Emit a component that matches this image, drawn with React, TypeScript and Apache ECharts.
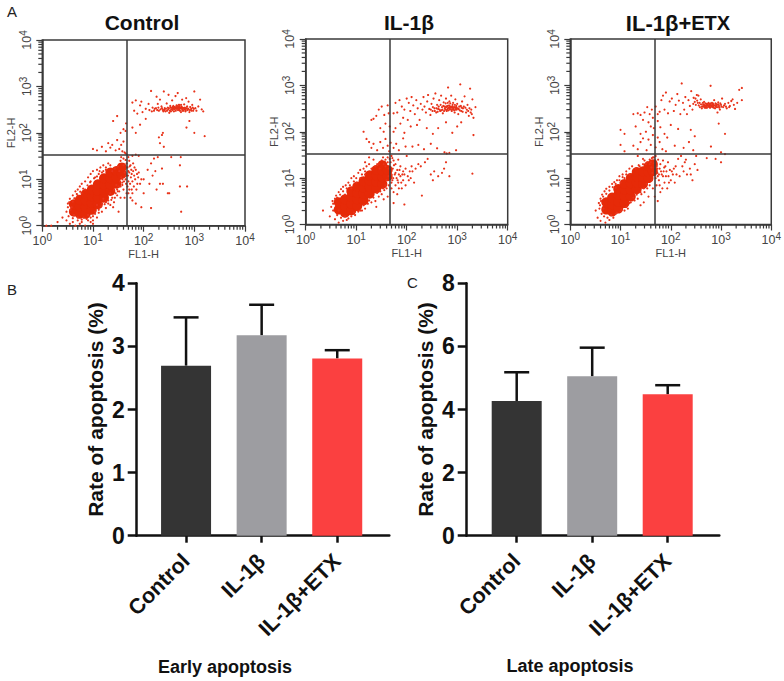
import React, { useEffect, useRef } from "react";
import * as echarts from "echarts";

const groupNames = ["Control", "IL-1β", "IL-1β+ETX"];
const barColors = ["#343434", "#9d9da1", "#fb4040"];
const earlyValues = [2.695, 3.175, 2.81];
const earlyUpper = [3.46, 3.66, 2.94];
const lateValues = [4.27, 5.05, 4.48];
const lateUpper = [5.18, 5.96, 4.77];
const decades = [1, 10, 100, 1000, 10000];
const minorLogTicks = [2,3,4,5,6,7,8,9,20,30,40,50,60,70,80,90,200,300,400,500,600,700,800,900,2000,3000,4000,5000,6000,7000,8000,9000];
const gateX = 47;
const gateY = 34;

const controlCore = [[4.2,2.0],[4.2,2.9],[5.5,1.8],[5.5,2.6],[5.5,3.6],[7.2,1.8],[7.2,2.5],[7.2,3.5],[7.2,4.8],[9.5,2.2],[9.5,3.1],[9.5,4.3],[9.5,6],[12.5,2.9],[12.5,4],[12.5,5.6],[12.5,7.8],[16.5,4],[16.5,5.5],[16.5,7.6],[16.5,10.5],[22,5.6],[22,7.7],[22,10.5],[22,14],[29,8],[29,11],[29,15],[37,13],[37,18]];
const controlDots = [[60,450],[70,500],[85,390],[90,470],[65,300],[75,260],[95,280],[110,330],[125,420],[140,800],[150,350],[165,330],[180,600],[190,420],[200,300],[210,520],[225,370],[240,310],[250,780],[260,340],[270,290],[285,430],[300,350],[310,660],[320,270],[335,380],[350,320],[365,500],[380,340],[395,290],[410,360],[425,620],[440,330],[455,380],[470,720],[485,350],[500,310],[515,400],[530,350],[545,280],[560,360],[575,520],[590,330],[610,300],[630,410],[650,350],[670,290],[690,560],[710,340],[740,310],[770,470],[800,280],[830,360],[870,330],[910,400],[950,300],[1000,780],[1050,340],[1100,300],[1200,370],[1300,520],[1400,320],[1500,290],[340,350],[360,345],[375,360],[390,340],[405,350],[420,335],[435,355],[450,345],[465,340],[480,360],[495,330],[510,345],[525,335],[540,350],[555,340],[570,330],[585,350],[600,335],
[130,310],[145,290],[160,300],[175,340],[185,310],[195,350],[215,320],[230,340],[245,290],[255,310],[275,330],[290,300],[305,320],[315,340],[330,300],[345,290],[370,310],[385,380],[400,320],[430,300],[445,390],[475,310],[490,400],[505,370],[520,300],[550,400],[580,300],[620,340],[640,320],[660,340],[680,310],[720,370],[760,330],[820,310],[880,300],[930,350],[980,330],
[40,120],[45,160],[30,230],[25,180],[35,100],[44,110],[60,130],[70,100],[85,150],[110,200],[200,80],[210,60],[230,90],[240,100],[250,50],[700,130],[800,180],[1000,100],[1600,85],
[10,45],[12,42],[15,50],[18,40],[20,60],[22,48],[24,55],[28,42],[30,70],[33,45],[36,55],[38,40],[40,65],[42,38],[44,36],[47,34],[50,30],[60,32],[70,34],[80,32],[55,20],[62,22],[70,16],[80,14],[90,10],[100,10],[65,12],[75,8],[58,6],[50,5],[55,4],[60,3.5],[70,3],[90,2.5],[140,2.4],[120,16],[140,22],[160,28],[190,30],[230,17],[170,15],[150,12],[130,8],[210,8],[240,8],[300,5],[320,5],[520,7],[720,7],[550,2],[350,30],[520,20],[540,30],[180,6],[100,5],[35,25],[40,20],[42,14],[45,12],[38,10],[45,8],[40,6],[42,4],[35,4],[52,14],[56,11],[60,9],[64,7],[48,18],[52,25],[57,16],[68,10],[72,6],[48,7],[50,9],[54,8],
[46,22],[44,26],[40,28],[36,30],[49,12],[50,15],[53,19],[58,13],[62,15],[66,18],[74,13],[78,11],[85,8],[60,5],[52,6],[46,5],[44,10],[41,9],[38,7.5],[33,5.5],[30,4.5],[26,3.2],[22,2.8],[18,2.4],[15,2],[12,1.5],[10,1.3],
[2,1.2],[2.5,1.5],[3,1.3],[3.5,1.1],[4,1.2],[4.5,1],[5,1.3],[5.5,1.1],[6,1.2],[7,1],[8,1.3],[9,1.2],[10,1.1],[1.2,1],[1.5,1],[3,2],[3.2,3],[3.5,3.8],[4,4.5],[4.5,5.5],[5,6],[5.5,7],[6,8],[7,9],[8,11],[9,13],[10,15],[12,16],[14,18],[16,20],[18,18],[20,22],[22,20],[11,2],[13,2.2],[15,3],[18,3.2],[20,3.5],[24,4],[28,5],[30,6],[32,7],[25,2.5],[32,2],[34,9],[36,11],[33,15],[31,19],[27,17],[24,15],[4.2,1.7],[6.5,1.5],[8,1.7],[10,1.6],[12,2.8],[16,3.8],[22,5],[26,6],[29,7.5],[7,6],[6,5],[5,4.5],[9,9],[11,11],[13,13],[15,14],[3.8,2.5],[4,3.3],
[3.3,1.6],[3.6,2.2],[3.2,2.5],[3.4,3.2],[4.3,3.9],[4.8,4.8],[5.6,5.4],[6.4,6.3],[7.8,7.4],[8.8,8.6],[10.5,10.5],[12,11.5],[13.5,15],[16,15],[18,16],[7.5,1.4],[9,1.5],[6,1.35],[5,1.5],[4,1.45],[11,1.8],[13,1.9],[14.5,2.6],[17,2.9],[20,3],[23,3.6],[27,4],[31,5.5],[35,7],[38,8.5]];

const il1Core = [[4.5,2.1],[4.5,3],[6,1.8],[6,2.5],[6,3.5],[8,2],[8,2.8],[8,3.9],[8,5.2],[10.5,2.5],[10.5,3.5],[10.5,4.8],[10.5,6.6],[14,3.3],[14,4.6],[14,6.3],[14,8.6],[18.5,4.6],[18.5,6.4],[18.5,8.8],[18.5,11.5],[25,6],[25,8.3],[25,11.5],[25,15],[33,7.5],[33,10.5],[33,14.5],[33,19],[42,11],[42,15]];
const il1Dots = [[55,250],[60,420],[65,260],[72,480],[80,350],[85,200],[90,300],[100,520],[105,180],[110,420],[118,280],[125,560],[135,370],[145,240],[155,480],[165,320],[180,180],[190,400],[205,300],[215,560],[225,350],[240,260],[255,450],[265,620],[280,310],[295,230],[310,400],[325,280],[340,520],[355,320],[370,670],[385,260],[400,380],[420,310],[440,480],[460,280],[480,600],[500,340],[520,250],[540,430],[560,350],[580,300],[600,520],[620,280],[640,360],[660,900],[680,330],[700,450],[720,300],[740,350],[760,600],[780,280],[800,330],[830,420],[860,340],[890,260],[920,500],[950,330],[980,300],[1000,400],[1050,240],[1100,350],[1150,1050],[1200,280],[1250,450],[1300,320],[1400,580],[1500,260],[1600,380],[1700,220],[1800,850],[1900,300],[2000,500],[2100,200],[2300,340],[2100,85],[600,340],[650,320],[700,340],[750,330],[800,350],[850,320],[900,340],[950,320],
[300,300],[330,340],[360,280],[390,320],[410,270],[430,350],[450,300],[470,380],[490,290],[510,300],[530,360],[550,280],[570,320],[590,410],[610,350],[630,300],[650,420],[670,290],[690,370],[710,320],[730,410],[770,340],[790,300],[810,380],[840,310],[870,290],[900,380],[930,300],[960,360],[1020,320],[1070,310],[1120,290],[1180,360],[1220,330],[1280,270],[1350,350],[1450,330],[1550,300],[1650,280],[1750,320],[1850,260],[1950,240],
[20,180],[22,190],[25,220],[28,300],[32,350],[36,230],[42,370],[44,250],[35,100],[30,120],[38,150],[46,130],[55,100],[60,120],[75,150],[90,95],[120,130],[160,140],[250,120],[330,90],[420,120],[600,160],[800,95],[1000,130],[1200,160],
[14,100],[16,70],[18,60],[20,45],[22,55],[26,40],[30,60],[34,45],[38,70],[42,50],[45,38],[48,58],[55,45],[62,55],[70,40],[85,72],[95,48],[130,48],[170,52],[220,42],[300,55],[400,44],[560,36],[620,34],[700,35],[950,40],
[15,22],[18,28],[22,25],[26,20],[29,16],[50,30],[55,24],[60,20],[68,25],[75,18],[85,14],[90,12],[100,30],[120,10],[140,8],[150,16],[170,20],[190,18],[200,4.2],[230,22],[260,26],[300,12],[330,9],[350,14],[420,11],[500,13],[550,16],[600,22],[700,11],[2000,12.5],[50,6],[55,5],[60,7],[68,8],[75,11],[85,9],[95,7],[110,9],[65,4.5],[90,2.7],[55,2.9],[52,9],[58,12],[65,15],[48,17],[48,22],[52,27],[80,6],[70,6],[130,14],
[50,12],[53,16],[56,19],[60,13],[63,10],[66,9],[70,12],[72,15],[78,8],[82,12],[50,8],[54,10],[48,10],[46,26],[42,28],[38,25],[34,28],[105,11],[115,14],[125,18],[95,16],
[2.2,2],[3,1.5],[3.5,2],[3.8,1.3],[4.2,1.6],[4.5,1.1],[5,1.4],[5.5,1.2],[6,1.5],[6.5,1.25],[7,1.35],[8,1.5],[3.5,2.8],[3.8,3.6],[4,4.2],[4.5,5],[5,5.8],[5.5,6.5],[6.2,7],[7,8],[8,10],[9,11],[11,13],[12,15],[14,16],[16,18],[18,20],[20,16],[24,18],[28,20],[32,24],[35,20],[38,18],[42,22],[44,16],[11,1.9],[13,2],[15,2.2],[17,2.8],[20,3],[24,3.2],[28,4],[32,4.5],[36,5.5],[40,6],[42,4],[44,7],[40,9],[44,11],[35,3.5],[25,2.4],[4.5,2],[9,1.8],[6,4.4],[8,6],[10,8],[12,10],[15,12],
[3.2,2.4],[3.4,3.2],[4.2,3.8],[4.8,4.4],[5.5,5.2],[6.5,6],[7.5,7],[9,8.5],[10,10],[13,12],[15,14],[9.5,1.6],[12,2],[14,2.6],[18,3.3],[22,3.8],[26,4.8],[30,5.2],[34,6],[38,7]];

const etxCore = [[5.2,2.1],[5.2,3],[6.8,1.9],[6.8,2.7],[6.8,3.8],[9,2.2],[9,3.1],[9,4.4],[9,5.8],[12,2.9],[12,4.1],[12,5.7],[12,7.5],[16,4],[16,5.6],[16,7.8],[16,10],[21,5.8],[21,8],[21,10.8],[21,13.5],[28,7.5],[28,10.5],[28,14],[36,10],[36,13.5],[36,18],[44,14],[44,20]];
const etxDots = [[50,350],[55,240],[60,270],[65,480],[70,600],[75,300],[80,700],[88,250],[95,450],[105,520],[115,280],[125,380],[135,650],[145,470],[155,240],[165,1100],[175,420],[185,300],[195,560],[210,240],[225,480],[240,360],[255,750],[270,300],[285,540],[300,440],[315,380],[330,620],[345,420],[360,370],[380,340],[400,390],[420,350],[440,380],[460,440],[480,360],[500,330],[520,400],[540,370],[560,350],[580,400],[600,380],[620,980],[640,360],[660,420],[680,340],[700,380],[730,480],[760,320],[790,400],[820,370],[850,260],[880,430],[910,360],[950,300],[1000,380],[1050,520],[1100,340],[1200,400],[1300,320],[1500,360],[1600,460],[1700,500],[1900,310],[2100,420],[2300,800],[2600,880],[2600,480],[500,370],[530,380],[560,370],[590,360],[610,375],[650,365],[700,360],[470,370],[780,355],[450,350],
[280,400],[310,520],[335,470],[355,600],[375,420],[395,500],[415,320],[435,420],[455,390],[475,330],[490,410],[510,350],[525,330],[545,400],[565,420],[585,340],[605,330],[625,410],[645,350],[665,380],[690,410],[715,330],[745,370],[775,410],[805,340],[835,390],[865,340],[895,390],[930,330],[970,410],[1020,350],[1150,370],[1250,350],[1400,420],[1450,340],[1800,380],
[18,240],[22,250],[25,230],[30,260],[34,340],[38,240],[42,300],[10,110],[12,90],[20,130],[25,90],[28,180],[32,100],[36,160],[40,130],[44,200],[46,120],[55,170],[62,125],[75,90],[85,75],[100,140],[140,115],[250,110],[300,80],[900,150],[1200,90],
[10,52],[12,38],[18,50],[22,42],[25,60],[28,72],[33,40],[36,68],[40,52],[44,85],[50,46],[55,75],[60,60],[68,42],[80,38],[120,50],[180,45],[230,60],[280,40],[630,48],[1000,36],[1200,33],[1000,22],[520,27],[780,26],
[22,30],[28,26],[24,18],[32,20],[40,22],[44,28],[50,30],[56,25],[62,20],[70,24],[78,18],[88,22],[96,15],[110,12],[125,18],[140,26],[160,30],[190,22],[210,12],[240,16],[270,9],[300,20],[340,15],[320,30],[200,25],[150,11],[120,8],[100,9],[85,6],[75,8],[62,5],[55,3.2],[48,4],[52,7],[58,9],[66,12],[72,14],[50,10],[54,13],[48,17],[52,18],[60,16],[80,11],[92,8],[68,6],
[49,24],[47,21],[46,28],[42,27],[38,25],[54,16],[58,12],[64,14],[70,11],[74,17],[82,14],[90,11],[105,14],[115,16],[130,12],[170,18],[180,14],[250,12],[55,11],[60,7],
[3.2,2],[3.5,1.4],[4,1.2],[4.2,1.7],[4.7,1.5],[5,1.1],[5.5,1.4],[6,1.25],[6.5,1.6],[7.2,1.4],[8,1.7],[3.7,2.9],[4,3.6],[4.3,4.4],[4.8,5.2],[5.2,5.9],[6,6.5],[6.8,7.5],[7.5,8.2],[8.5,9],[9.5,11],[11,12],[13,14],[15,16],[17,18],[20,16],[23,19],[28,20],[30,24],[34,22],[38,20],[41,17],[43,13],[10,1.9],[12,2],[14,2.2],[16,3],[19,3.3],[22,3.6],[26,4.5],[30,5],[34,6],[38,7],[42,9],[44,6],[36,4],[25,2.6],[29,3],[4.6,2.2],[8,6.2],[10,8],[12,10],[15,12],
[3.8,2.2],[3.9,2.6],[4.1,3.2],[4.5,4],[5.2,4.6],[6,5.4],[7,6.4],[8,7.5],[9.5,9],[11,10.5],[13,12],[8.5,1.8],[10.5,2.1],[13,2.4],[15,2.9],[18,3.8],[21,4.4],[25,5],[29,6],[33,7.5]];

const panels = [
  { core: controlCore, dots: controlDots, left: 42.3, top: 40, width: 202.7, height: 185.7 },
  { core: il1Core, dots: il1Dots, left: 305.7, top: 39, width: 202, height: 185.5 },
  { core: etxCore, dots: etxDots, left: 570.3, top: 39, width: 202, height: 185.5 },
];
const bars = [
  { values: earlyValues, upper: earlyUpper, left: 136.7, width: 252.6, xMin: 1 - 49.3 / 75.5, xMax: 1 + 203 / 75.5, yMax: 4, step: 1 },
  { values: lateValues, upper: lateUpper, left: 466.7, width: 252.6, xMin: 1 - 50 / 75.5, xMax: 1 + 202.6 / 75.5, yMax: 8, step: 2 },
];

const FONT = "Liberation Sans, Arial, sans-serif";
const INK = "#3a3a3a";
const DOT = "#e8331a";

const decadeLabel = (v: number) => `{a|10}{b|${Math.round(Math.log10(v))}}`;
const decadeRich = {
  a: { fontFamily: FONT, fontSize: 12.5, color: "#444" },
  b: { fontFamily: FONT, fontSize: 10, color: "#444", padding: [0, 0, 7, 0] },
};

function logAxis(gridIndex: number, name: string, isY: boolean) {
  return {
    type: "log", logBase: 10, min: 1, max: 10000, gridIndex,
    position: isY ? "left" : "bottom",
    name, nameLocation: "middle", nameGap: isY ? 26 : 22,
    nameTextStyle: { fontFamily: FONT, fontSize: 11, color: "#444" },
    splitLine: { show: false },
    axisLine: { show: true, onZero: false, lineStyle: { color: INK, width: 1.5 } },
    axisTick: { show: true, customValues: decades, length: 6, lineStyle: { color: INK, width: 1.2 } },
    axisLabel: {
      show: true, customValues: decades, margin: 7, rotate: isY ? 90 : 0,
      formatter: decadeLabel, rich: decadeRich, hideOverlap: false,
    },
  };
}

// Short log ticks between the decades, placed through the panel's own axes.
function minorTickSeries(i: number) {
  return {
    type: "custom", xAxisIndex: i, yAxisIndex: i, silent: true, clip: false, z: 4,
    data: minorLogTicks.map((v) => [v, v]),
    renderItem: (_: any, api: any) => {
      const v = api.value(0);
      const onX = api.coord([v, 1]);
      const onY = api.coord([1, v]);
      const style = { stroke: INK, lineWidth: 1.2, fill: "none" };
      return {
        type: "group",
        children: [
          { type: "line", shape: { x1: onX[0], y1: onX[1], x2: onX[0], y2: onX[1] + 4 }, style },
          { type: "line", shape: { x1: onY[0], y1: onY[1], x2: onY[0] - 4, y2: onY[1] }, style },
        ],
      };
    },
  };
}

function buildOption() {
  const grid: any[] = [];
  const xAxis: any[] = [];
  const yAxis: any[] = [];
  const series: any[] = [];

  panels.forEach((p, i) => {
    grid.push({ left: p.left, top: p.top, width: p.width, height: p.height, show: true, borderColor: INK, borderWidth: 1.5, backgroundColor: "transparent" });
    xAxis.push(logAxis(i, "FL1-H", false));
    yAxis.push(logAxis(i, "FL2-H", true));
  });
  bars.forEach((b, j) => {
    const g = panels.length + j;
    grid.push({ left: b.left, top: 283.3, width: b.width, height: 252.4 });
    xAxis.push({
      type: "value", min: b.xMin, max: b.xMax, gridIndex: g, splitLine: { show: false },
      axisLine: { show: true, onZero: false, lineStyle: { color: "#111", width: 2.5 } },
      axisTick: { show: true, customValues: [1, 2, 3], length: 7, lineStyle: { color: "#111", width: 2.5 } },
      axisLabel: {
        show: true, customValues: [1, 2, 3], rotate: 45, margin: 22, interval: 0,
        formatter: (v: number) => groupNames[Math.round(v) - 1],
        fontFamily: FONT, fontWeight: "bold", fontSize: 21.5, color: "#111",
      },
    });
    yAxis.push({
      type: "value", min: 0, max: b.yMax, interval: b.step, gridIndex: g, splitLine: { show: false },
      name: "Rate of apoptosis (%)", nameLocation: "middle", nameGap: 31,
      nameTextStyle: { fontFamily: FONT, fontWeight: "bold", fontSize: 21, color: "#111" },
      axisLine: { show: true, onZero: false, lineStyle: { color: "#111", width: 2.5 } },
      axisTick: { show: true, length: 9, lineStyle: { color: "#111", width: 2.5 } },
      axisLabel: { margin: 12, fontFamily: FONT, fontWeight: "bold", fontSize: 23, color: "#111" },
    });
    series.push({
      type: "bar", xAxisIndex: g, yAxisIndex: g, barWidth: 50,
      data: b.values.map((v, k) => ({ value: [k + 1, v], itemStyle: { color: barColors[k] } })),
      z: 2,
    });
    series.push({
      type: "custom", xAxisIndex: g, yAxisIndex: g, z: 1, silent: true,
      data: b.values.map((v, k) => [k + 1, v, b.upper[k]]),
      renderItem: (_: any, api: any) => {
        const low = api.coord([api.value(0), api.value(1)]);
        const up = api.coord([api.value(0), api.value(2)]);
        const style = { stroke: "#111", lineWidth: 2.5, fill: "none" };
        return {
          type: "group",
          children: [
            { type: "line", shape: { x1: low[0], y1: low[1], x2: up[0], y2: up[1] }, style },
            { type: "line", shape: { x1: up[0] - 12.5, y1: up[1], x2: up[0] + 12.5, y2: up[1] }, style },
          ],
        };
      },
    });
  });
  panels.forEach((p, i) => {
    series.push({
      type: "scatter", xAxisIndex: i, yAxisIndex: i, symbolSize: 10, silent: true,
      itemStyle: { color: "#e62a08", opacity: 1 }, data: p.core, z: 2,
    });
    series.push({
      type: "scatter", xAxisIndex: i, yAxisIndex: i, symbolSize: 2.2, silent: true,
      itemStyle: { color: DOT, opacity: 1 }, data: p.dots, z: 3,
      markLine: {
        silent: true, symbol: "none", animation: false, label: { show: false },
        lineStyle: { color: INK, width: 1.5, type: "solid" },
        data: [{ xAxis: gateX }, { yAxis: gateY }],
      },
    });
    series.push(minorTickSeries(i));
  });

  const heading = (text: string, left: number, top: number, size: number, weight: string, rich?: any) => ({
    text, left, top, textAlign: "center",
    textStyle: { fontFamily: FONT, fontSize: size, fontWeight: weight, color: "#111", rich },
  });
  const panelLetter = (text: string, left: number, top: number) => ({
    text, left, top, padding: 0, textStyle: { fontFamily: FONT, fontSize: 15, fontWeight: "normal", color: "#222" },
  });

  return {
    animation: false,
    backgroundColor: "#fff",
    title: [
      heading("Control", 137, 7, 21, "bold"),
      heading("IL-1β", 404, 7, 21, "bold"),
      heading("{a|IL-1β+}{b|ETX}", 673, 7, 22, "bold", {
        a: { fontFamily: FONT, fontSize: 22, fontWeight: "bold", color: "#111" },
        b: { fontFamily: FONT, fontSize: 20, fontWeight: "bold", color: "#111" },
      }),
      heading("Early apoptosis", 220, 653, 18, "bold"),
      heading("Late apoptosis", 565, 652, 18, "bold"),
      panelLetter("A", 7, 4),
      panelLetter("B", 7, 282),
      panelLetter("C", 407, 275),
    ],
    grid, xAxis, yAxis, series,
  };
}

export default function App() {
  const ref = useRef<HTMLDivElement>(null);
  useEffect(() => {
    const chart = echarts.init(ref.current!, undefined, { renderer: "svg" });
    chart.setOption(buildOption() as any);
    return () => chart.dispose();
  }, []);
  return <div ref={ref} style={{ position: "absolute", left: 0, top: 0, width: 784, height: 681 }} />;
}
